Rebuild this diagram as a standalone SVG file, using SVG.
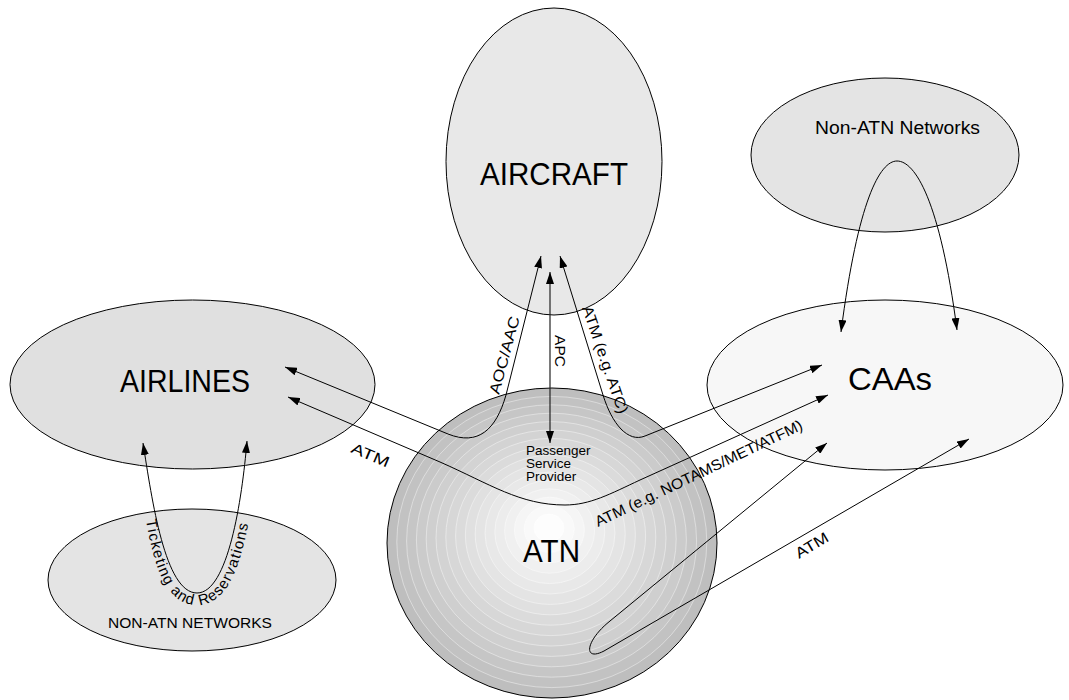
<svg xmlns="http://www.w3.org/2000/svg" width="1069" height="700" viewBox="0 0 1069 700">
  <style>
    .node { stroke: #000; stroke-width: 1; }
    .ring { stroke: #fff; stroke-width: 0.7; stroke-opacity: 0.6; }
    .conn { fill: none; stroke: #000; stroke-width: 1; marker-start: url(#arrow); marker-end: url(#arrow); }
    .big { font-family: "Liberation Sans", Arial, sans-serif; font-size: 32px; fill: #000; }
    .lbl { font-family: "Liberation Sans", Arial, sans-serif; font-size: 15px; fill: #000; }
    .small { font-family: "Liberation Sans", Arial, sans-serif; font-size: 13.5px; fill: #000; }
  </style>
  <defs>
    <marker id="arrow" viewBox="0 0 12 8" refX="12" refY="4" markerWidth="12" markerHeight="8" markerUnits="userSpaceOnUse" orient="auto-start-reverse">
      <path d="M0,0 L12,4 L0,8 Z" fill="#000"/>
    </marker>
    <!-- baseline for the curved ticketing label, offset outside the U-shaped link -->
    <path id="ticketPath" d="M 146,520 C 154,568 167,605 197,605 C 227,605 240,568 249,520"/>
  </defs>

  <rect width="1069" height="700" fill="#fff"/>

  <g id="aircraft">
    <ellipse class="node" cx="554" cy="161.5" rx="108" ry="153.5" fill="#e8e8e8"/>
    <text class="big" x="480" y="185" textLength="148" lengthAdjust="spacingAndGlyphs">AIRCRAFT</text>
  </g>

  <g id="non-atn-networks">
    <ellipse class="node" cx="885" cy="155" rx="134" ry="77" fill="#e4e4e4"/>
    <text class="lbl" x="815" y="134" style="font-size:18px" textLength="165" lengthAdjust="spacingAndGlyphs">Non-ATN Networks</text>
  </g>

  <g id="caas">
    <ellipse class="node" cx="885" cy="385" rx="178" ry="85" fill="#f7f7f7"/>
    <text class="big" x="848" y="390" textLength="84" lengthAdjust="spacingAndGlyphs">CAAs</text>
  </g>

  <g id="airlines">
    <ellipse class="node" cx="192.5" cy="384.5" rx="182.5" ry="84.5" fill="#e0e0e0"/>
    <text class="big" x="120" y="392" textLength="130" lengthAdjust="spacingAndGlyphs">AIRLINES</text>
  </g>

  <g id="non-atn-networks-ground">
    <ellipse class="node" cx="192" cy="580" rx="144" ry="71" fill="#e4e4e4"/>
    <text class="lbl" x="108" y="628" style="font-size:14px" textLength="164" lengthAdjust="spacingAndGlyphs">NON-ATN NETWORKS</text>
  </g>

  <g id="atn">
    <!-- shaded sphere built from concentric bands -->
    <ellipse cx="552" cy="543" rx="165" ry="155" fill="#bebebe"/>
    <ellipse class="ring" cx="551.8" cy="542" rx="155" ry="145.6" fill="#c2c2c2"/>
    <ellipse class="ring" cx="551.6" cy="541" rx="145" ry="136.2" fill="#c6c6c6"/>
    <ellipse class="ring" cx="551.4" cy="540" rx="135" ry="126.8" fill="#cbcbcb"/>
    <ellipse class="ring" cx="551.2" cy="539" rx="125" ry="117.4" fill="#cfcfcf"/>
    <ellipse class="ring" cx="551" cy="538" rx="115" ry="108" fill="#d3d3d3"/>
    <ellipse class="ring" cx="550.8" cy="537" rx="105" ry="98.6" fill="#d7d7d7"/>
    <ellipse class="ring" cx="550.6" cy="536" rx="95" ry="89.2" fill="#dbdbdb"/>
    <ellipse class="ring" cx="550.4" cy="535" rx="85" ry="79.8" fill="#e0e0e0"/>
    <ellipse class="ring" cx="550.2" cy="534" rx="75" ry="70.4" fill="#e4e4e4"/>
    <ellipse class="ring" cx="550" cy="533" rx="65" ry="61" fill="#e8e8e8"/>
    <ellipse class="ring" cx="549.8" cy="532" rx="55" ry="51.6" fill="#ececec"/>
    <ellipse class="ring" cx="549.6" cy="531" rx="45" ry="42.2" fill="#f0f0f0"/>
    <ellipse class="ring" cx="549.4" cy="530" rx="35" ry="32.8" fill="#f5f5f5"/>
    <ellipse class="ring" cx="549.2" cy="529" rx="25" ry="23.4" fill="#f9f9f9"/>
    <ellipse class="ring" cx="549" cy="528" rx="15" ry="14" fill="#fdfdfd"/>
    <ellipse class="node" cx="552" cy="543" rx="165" ry="155" fill="none"/>
    <text class="big" x="523" y="562" textLength="57" lengthAdjust="spacingAndGlyphs">ATN</text>
    <text class="small" x="526" y="455">Passenger</text>
    <text class="small" x="526" y="468">Service</text>
    <text class="small" x="526" y="481">Provider</text>
  </g>

  <g id="connectors">
    <!-- Airlines <-> Aircraft (AOC/AAC) -->
    <path class="conn" d="M 285,367 L 448,434 C 478,446 496,430 506,395 L 541,256"/>
    <!-- Aircraft <-> Passenger Service Provider -->
    <path class="conn" d="M 550,272 L 550,443" style="stroke:#222;stroke-width:1.2"/>
    <!-- Aircraft <-> CAAs (ATC) -->
    <path class="conn" d="M 560,256 L 603,395 C 612,424 628,443 645,436 L 822,365"/>
    <!-- Airlines <-> CAAs through the ATN -->
    <path class="conn" d="M 288,397 L 440,462 C 490,484 520,505 565,505 C 590,505 610,494 640,480 L 828,395"/>
    <!-- CAAs loop through the ATN -->
    <path class="conn" d="M 827,443 L 610,621 C 585,641 583,662 604,651 L 969,439"/>
    <!-- Non-ATN networks -> CAAs -->
    <path class="conn" d="M 841,332 C 858,200 880,161 897,161 C 915,161 940,200 957,330"/>
    <!-- Ground networks -> Airlines (ticketing) -->
    <path class="conn" d="M 143,443 C 152,500 165,593 197,593 C 228,593 242,500 247,441"/>

    <text class="lbl" transform="translate(499,395) rotate(-75)" textLength="80" lengthAdjust="spacingAndGlyphs">AOC/AAC</text>
    <text class="lbl" transform="translate(555,335) rotate(90)" textLength="32" lengthAdjust="spacingAndGlyphs">APC</text>
    <text class="lbl" transform="translate(582,308) rotate(71)" textLength="113" lengthAdjust="spacingAndGlyphs">ATM (e.g. ATC)</text>
    <text class="lbl" transform="translate(350,452) rotate(23)" textLength="40" lengthAdjust="spacingAndGlyphs">ATM</text>
    <text class="lbl" transform="translate(598,527) rotate(-25.5)" textLength="228" lengthAdjust="spacingAndGlyphs">ATM (e.g. NOTAMS/MET/ATFM)</text>
    <text class="lbl" transform="translate(799,559) rotate(-31)" textLength="36" lengthAdjust="spacingAndGlyphs">ATM</text>
    <text class="lbl" style="letter-spacing:1.2px"><textPath href="#ticketPath">Ticketing and Reservations</textPath></text>
  </g>
</svg>
